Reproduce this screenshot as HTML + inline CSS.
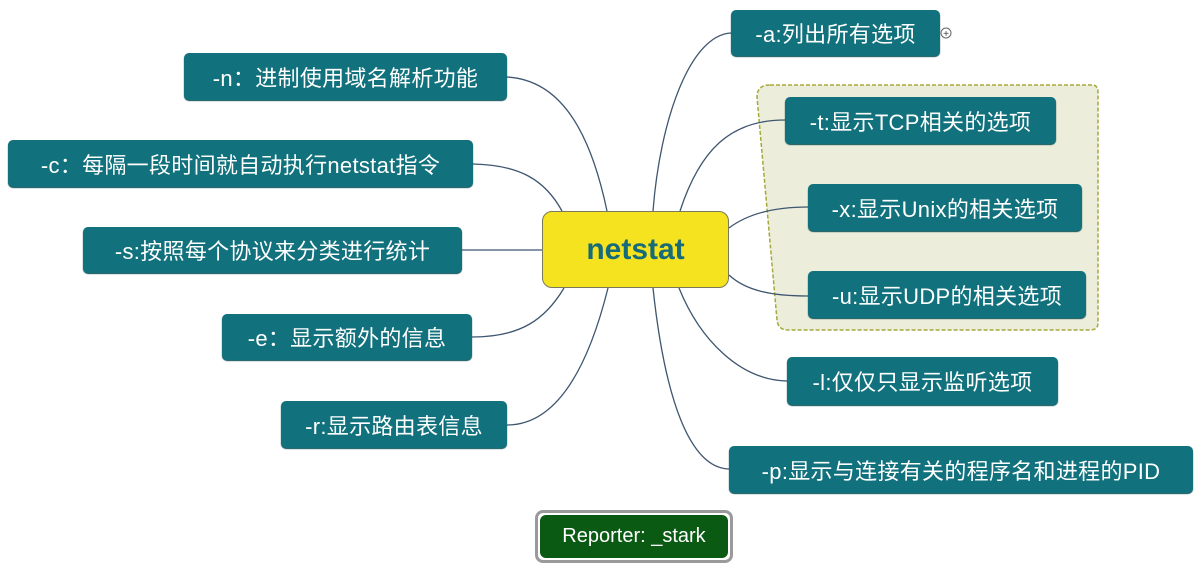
<!DOCTYPE html>
<html><head><meta charset="utf-8"><style>
body{margin:0;width:1198px;height:576px;background:#fff;position:relative;overflow:hidden;font-family:"Liberation Sans","Noto Sans CJK SC",sans-serif}
.n{position:absolute;background:#11717d;color:#fff;border-radius:5px;font-size:22px;display:flex;align-items:center;justify-content:center;box-sizing:border-box;white-space:nowrap;box-shadow:0 1px 1px #0a4d55;letter-spacing:0.3px}
svg{position:absolute;left:0;top:0}
</style></head><body>
<svg width="1198" height="576">
<path d="M770,85 L1092,85 Q1098,85 1098,92 L1098,323 Q1098,330 1090,330 L788,330 Q778,330 777,320 L757,97 Q757,85 770,85 Z" fill="#ecedda" stroke="#a5a93a" stroke-width="1.5" stroke-dasharray="4,2"/>
<g fill="none" stroke="#3f5670" stroke-width="1.3">
<path d="M607,211 C590,130 560,80 507,77"/>
<path d="M562,211 C545,180 520,165 473,164"/>
<path d="M542,250 L462,250"/>
<path d="M564,288 C545,320 520,337 472,337"/>
<path d="M608,288 C590,360 560,425 507,425"/>
<path d="M653,211 C660,120 690,35 731,33"/>
<path d="M680,211 C700,150 730,120 785,120"/>
<path d="M729,228 C750,212 780,207 808,207"/>
<path d="M729,275 C745,290 770,296 808,296"/>
<path d="M679,288 C700,340 740,380 787,381"/>
<path d="M653,288 C665,400 690,468 729,469"/>
</g>
<circle cx="946" cy="33" r="5" fill="#fff" stroke="#666" stroke-width="1"/>
<text x="946" y="37" font-size="10" text-anchor="middle" fill="#444" font-family="Liberation Sans">+</text>
</svg>
<div class="n" style="left:731px;top:10px;width:209px;height:46px">-a:列出所有选项</div>
<div class="n" style="left:785px;top:97px;width:271px;height:47px">-t:显示TCP相关的选项</div>
<div class="n" style="left:808px;top:184px;width:274px;height:47px">-x:显示Unix的相关选项</div>
<div class="n" style="left:808px;top:271px;width:278px;height:47px">-u:显示UDP的相关选项</div>
<div class="n" style="left:787px;top:357px;width:271px;height:48px">-l:仅仅只显示监听选项</div>
<div class="n" style="left:729px;top:446px;width:464px;height:47px">-p:显示与连接有关的程序名和进程的PID</div>
<div class="n" style="left:184px;top:53px;width:323px;height:47px">-n：进制使用域名解析功能</div>
<div class="n" style="left:8px;top:140px;width:465px;height:47px">-c：每隔一段时间就自动执行netstat指令</div>
<div class="n" style="left:83px;top:227px;width:379px;height:46px">-s:按照每个协议来分类进行统计</div>
<div class="n" style="left:222px;top:314px;width:250px;height:46px">-e：显示额外的信息</div>
<div class="n" style="left:281px;top:401px;width:226px;height:47px">-r:显示路由表信息</div>
<div style="position:absolute;left:542px;top:211px;width:187px;height:77px;box-sizing:border-box;background:#f5e31f;border:1.5px solid #7a7a5a;border-radius:10px;display:flex;align-items:center;justify-content:center;font-weight:bold;font-size:30px;color:#176a78">netstat</div>
<div style="position:absolute;left:535px;top:510px;width:198px;height:53px;box-sizing:border-box;border:3px solid #9a9a9a;border-radius:8px;background:#fff;padding:2px">
<div style="width:100%;height:100%;background:#0b5a14;border-radius:6px;color:#fff;font-size:20px;display:flex;align-items:center;justify-content:center">Reporter: _stark</div></div>
</body></html>
